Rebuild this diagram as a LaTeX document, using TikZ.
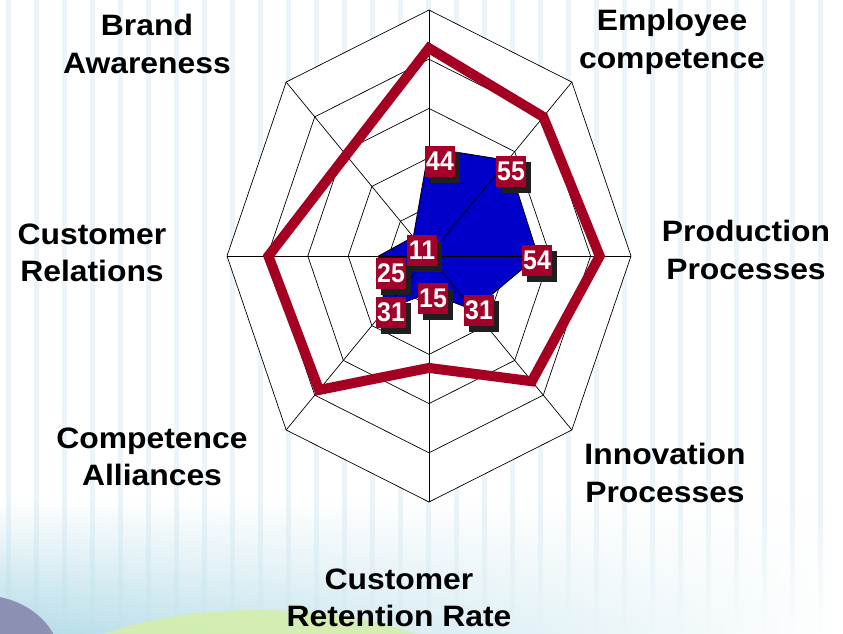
\documentclass[tikz,border=0pt]{standalone}
\usepackage{fontspec}
\setmainfont{Liberation Sans}[FakeStretch=1.08]
\newfontfamily\ValueFont{Liberation Sans}[FakeStretch=0.92]
\usepackage{tikz}
\usetikzlibrary{shadows,fadings}
\definecolor{ChartRed}{HTML}{A50021}
\definecolor{ChartBlue}{HTML}{0000C8}
\definecolor{BoxRed}{HTML}{A3002A}
\definecolor{StripeBlue}{HTML}{DCECF4}
\definecolor{SeaBlue}{HTML}{B4DCE8}
\definecolor{PaleGreen}{HTML}{D4EEAC}
\definecolor{DuskGray}{HTML}{8C90B2}
\tikzset{%
  AxisLabel/.style={font=\bfseries\fontsize{29.5}{37.5}\selectfont,align=center},
  ValueBox/.style={fill=BoxRed,text=white,font=\ValueFont\bfseries\fontsize{27}{27}\selectfont,
    minimum width=30pt,minimum height=31pt,inner sep=0pt,
    drop shadow={shadow xshift=5pt,shadow yshift=-6pt,fill=black!88,opacity=1}},
  GridLine/.style={draw=black,line width=0.7pt}
}

\begin{document}
\begin{tikzpicture}[x=1pt,y=-1pt]
\useasboundingbox (0,0) rectangle (843,633);

% background
\fill[white] (0,0) rectangle (843,633);
\foreach \x in {6,34,...,843} {
    \fill[StripeBlue,opacity=0.55] (\x,0) rectangle ++(5,633);
}
\shade[left color=SeaBlue,middle color=SeaBlue!70,right color=white,path fading=north] (0,500) rectangle (843,633);
\fill[PaleGreen,opacity=0.9] (260,700) ellipse [x radius=230,y radius=90];
\fill[DuskGray] (-20,660) ellipse [x radius=80,y radius=65];

% radar grid and series
\begin{scope}[shift={(429,256)},x=202pt,y=246pt]
    \fill[white] (90:1) \foreach \a in {45,0,...,-225} { -- (\a:1) } -- cycle;
    \foreach \r in {0.2,0.4,0.6,0.8,1} {
        \draw[GridLine] (90:\r) \foreach \a in {45,0,...,-225} { -- (\a:\r) } -- cycle;
    }
    \filldraw[fill=ChartBlue,draw=black,line width=0.8pt]
        (90:0.44) -- (45:0.55) -- (0:0.54) -- (-45:0.31) -- (-90:0.15)
        -- (-135:0.31) -- (180:0.25) -- (135:0.11) -- cycle;
    \foreach \a in {0,45,...,315} {
        \draw[GridLine] (0,0) -- (\a:1);
    }
    \draw[ChartRed,line width=10pt,line join=miter]
        (90:0.845) -- (45:0.80) -- (0:0.845) -- (-45:0.72) -- (-90:0.455)
        -- (-135:0.77) -- (180:0.795) -- (135:0.58) -- cycle;
\end{scope}

% data values
\node (v1) [ValueBox] at (440,161) {44};
\node (v2) [ValueBox] at (511,171) {55};
\node (v3) [ValueBox] at (537,260) {54};
\node (v4) [ValueBox] at (479,310) {31};
\node (v5) [ValueBox] at (433,298) {15};
\node (v6) [ValueBox] at (391,312) {31};
\node (v7) [ValueBox] at (391,273) {25};
\node (v8) [ValueBox] at (422,250) {11};

% axis names
\node (brand) [AxisLabel] at (147,44) {Brand\\Awareness};
\node (employee) [AxisLabel] at (672,42) {Employee\\competence};
\node (production) [AxisLabel] at (746,250) {Production\\Processes};
\node (innovation) [AxisLabel] at (665,473) {Innovation\\Processes};
\node (retention) [AxisLabel] at (399,598) {Customer\\Retention Rate};
\node (alliances) [AxisLabel] at (152,457) {Competence\\Alliances};
\node (relations) [AxisLabel] at (92,253) {Customer\\Relations};
\end{tikzpicture}
\end{document}
